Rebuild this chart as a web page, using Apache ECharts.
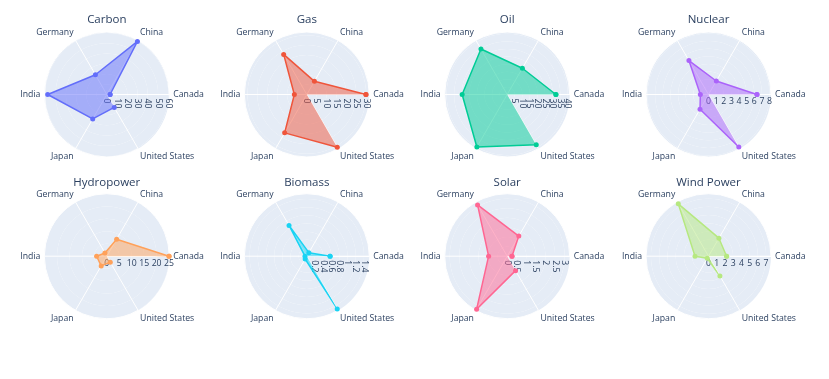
<!DOCTYPE html>
<html><head><meta charset="utf-8">
<script src="https://cdn.jsdelivr.net/npm/echarts@6/dist/echarts.min.js"></script>
<style>html,body{margin:0;padding:0;background:#fff}#c{width:829px;height:379px}</style>
</head><body><div id="c"></div>
<script>
// ---- data ----
const countries = ['Canada', 'China', 'Germany', 'India', 'Japan', 'United States'];
const sources = ['Carbon', 'Gas', 'Oil', 'Nuclear', 'Hydropower', 'Biomass', 'Solar', 'Wind Power'];
const carbon = [3.2, 59.7, 22.2, 57.6, 27.5, 14.5];
const gas = [29.9, 7.7, 23.4, 6.3, 22.4, 30.8];
const oil = [32.1, 20.0, 34.6, 29.7, 40.0, 38.3];
const nuclear = [6.35, 2.04, 5.13, 1.07, 2.22, 7.94];
const hydropower = [25.0, 7.9, 1.5, 4.1, 4.5, 2.8];
const biomass = [0.57, 0.1, 0.87, 0.045, 0.08, 1.49];
const solar = [0.25, 1.21, 3.09, 0.97, 3.19, 0.87];
const windPower = [2.2, 2.53, 7.35, 1.64, 0.3, 2.78];
const radialMax = [60.9, 31.6, 41.2, 8.19, 25.1, 1.53, 3.26, 7.6];
const radialStep = [10, 5, 5, 1, 5, 0.2, 0.5, 1];

// ---- styles / layout ----
const seriesValues = [carbon, gas, oil, nuclear, hydropower, biomass, solar, windPower];
const colors = ['#636efa', '#EF553B', '#00cc96', '#ab63fa', '#FFA15A', '#19d3f3', '#FF6692', '#B6E880'];
const rotated = [true, true, true, false, false, true, true, false];
const colX = [106.8, 306.8, 507.2, 708.5];
const rowY = [94.5, 256.2];
const titleY = [21, 183.3];
const R = 62.5;
const font = '"Open Sans", verdana, arial, sans-serif';
const textColor = '#2a3f5f';

const chart = echarts.init(document.getElementById('c'), null, {renderer: 'canvas'});
const polar = [], angleAxis = [], radiusAxis = [], series = [], title = [];
sources.forEach((name, i) => {
  const col = i % 4, row = Math.floor(i / 4);
  polar.push({center: [colX[col], rowY[row]], radius: R});
  angleAxis.push({
    polarIndex: i, type: 'category', data: countries, startAngle: 0, clockwise: false,
    boundaryGap: false,
    axisLine: {show: true, lineStyle: {color: '#ffffff', width: 1}},
    axisTick: {show: false},
    axisLabel: {show: true, color: textColor, fontFamily: font, fontSize: 8.7, margin: 4},
    splitLine: {show: true, lineStyle: {color: '#ffffff', width: 1}},
    z: 1
  });
  radiusAxis.push({
    polarIndex: i, type: 'value', min: 0, max: radialMax[i], interval: radialStep[i],
    axisLine: {show: true, lineStyle: {color: '#ffffff', width: 1}},
    axisTick: {show: false},
    axisLabel: rotated[i]
      ? {show: true, color: textColor, fontFamily: font, fontSize: 8.7, showMaxLabel: false,
         rotate: -90, align: 'left', verticalAlign: 'middle', margin: -4}
      : {show: true, color: textColor, fontFamily: font, fontSize: 8.7, showMaxLabel: false,
         rotate: 0, align: 'center', verticalAlign: 'top', margin: -3},
    splitLine: {show: true, lineStyle: {color: '#ffffff', width: 1}},
    splitArea: {show: true, areaStyle: {color: ['#E5ECF6', '#E5ECF6'], opacity: 1}},
    z: 1
  });
  const vals = seriesValues[i];
  const data = countries.map((c, k) => [vals[k], c]);
  data.push([vals[0], countries[0]]);
  series.push({
    type: 'line', coordinateSystem: 'polar', polarIndex: i, name,
    data, symbol: 'circle', symbolSize: 5, showSymbol: true,
    lineStyle: {color: colors[i], width: 1.5},
    itemStyle: {color: colors[i]},
    areaStyle: {color: colors[i], opacity: 0.5},
    animation: false, z: 3
  });
  title.push({
    text: name, left: colX[col], top: titleY[row] - 7, textAlign: 'center', padding: 0,
    textStyle: {fontFamily: font, fontSize: 11.5, fontWeight: 'normal', color: textColor}
  });
});

chart.setOption({animation: false, backgroundColor: '#ffffff', title, polar, angleAxis, radiusAxis, series});
</script>
</body></html>
